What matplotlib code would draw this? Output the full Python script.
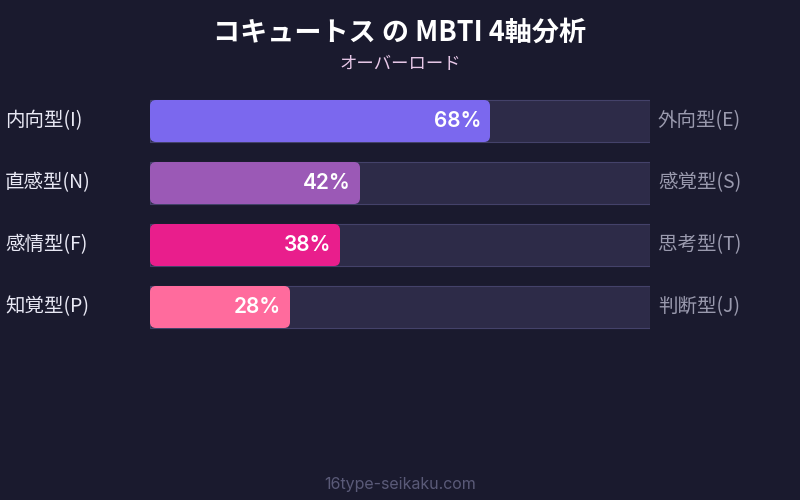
import matplotlib
matplotlib.use("Agg")
import matplotlib.pyplot as plt
from matplotlib.patches import FancyBboxPatch, Rectangle

plt.rcParams['font.family'] = ['Noto Sans CJK JP', 'DejaVu Sans']
LATIN = ['Inter', 'Noto Sans CJK JP', 'DejaVu Sans']

title = "コキュートス の MBTI 4軸分析"
subtitle = "オーバーロード"
left_labels = ["内向型(I)", "直感型(N)", "感情型(F)", "知覚型(P)"]
right_labels = ["外向型(E)", "感覚型(S)", "思考型(T)", "判断型(J)"]
values = [68, 42, 38, 28]
colors = ["#7b68ee", "#9b59b6", "#e91e8c", "#ff6b9d"]
footer = "16type-seikaku.com"

BG = "#1a1a2e"
fig = plt.figure(figsize=(8, 5), dpi=100, facecolor=BG)

# axes covering the track area: x 150..650 px, y 90..338 px
ax = fig.add_axes([150/800, (500-338)/500, 500/800, 248/500])
ax.set_facecolor(BG)
ax.set_xlim(0, 100)
ax.set_ylim(len(values) - 0.5, -0.5)
ax.axis('off')

bh = 42/62
r = 1.2  # 6 px in x units
aspect = (6/62) / r
for i, (v, c) in enumerate(zip(values, colors)):
    ax.add_patch(Rectangle((0, i - bh/2), 100, bh, facecolor="#2d2b48",
                           edgecolor="#44426a", linewidth=0.8, zorder=1))
    ax.add_patch(FancyBboxPatch((0, i - bh/2), v, bh,
                                boxstyle=f"round,pad=0,rounding_size={r}",
                                mutation_aspect=aspect,
                                facecolor=c, edgecolor="none", zorder=2))
    ax.text(v - 1.8, i, f"{v}%", ha='right', va='center', color='white',
            fontsize=15, fontweight='semibold', family=LATIN, zorder=3)
    ax.annotate(left_labels[i], xy=(0, i), xycoords='data',
                xytext=(5/800, i), textcoords=('figure fraction', 'data'),
                ha='left', va='center', color='#e8e8f4', fontsize=14)
    ax.annotate(right_labels[i], xy=(100, i), xycoords='data',
                xytext=(658/800, i), textcoords=('figure fraction', 'data'),
                ha='left', va='center', color='#9a9aae', fontsize=14)

fig.text(0.5, 1 - 33/500, title, ha='center', va='center', color='white',
         fontsize=19.5, fontweight='bold')
fig.text(0.5, 1 - 64/500, subtitle, ha='center', va='center', color='#e8c8e8',
         fontsize=12.5)
fig.text(0.5, 1 - 484/500, footer, ha='center', va='center', color='#5a5a78',
         fontsize=11.5, family=LATIN)

fig.savefig("out.png", dpi=100, facecolor=BG)
